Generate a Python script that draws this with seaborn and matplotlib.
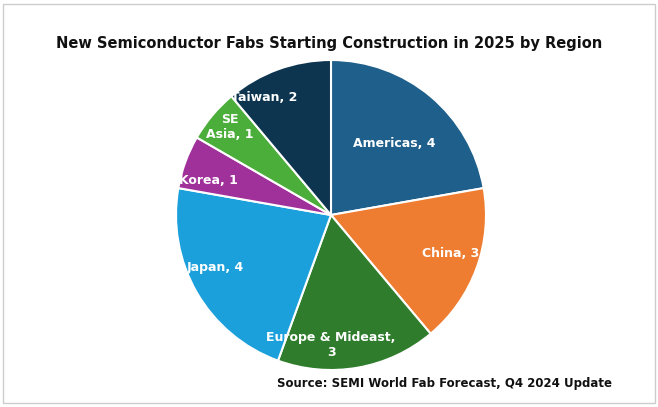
import matplotlib
matplotlib.use("Agg")
import matplotlib.pyplot as plt
import seaborn as sns

regions = ["Americas", "China", "Europe & Mideast", "Japan", "Korea", "SE Asia", "Taiwan"]
fabs = [4, 3, 3, 4, 1, 1, 2]
labels = ["Americas, 4", "China, 3", "Europe & Mideast,\n3", "Japan, 4", "Korea, 1", "SE\nAsia, 1", "Taiwan, 2"]
colors = ["#1f5f8b", "#ee7d31", "#2f7d2c", "#1ca0dc", "#a0309a", "#4cae3a", "#0e3550"]
# label positions in pie-radius units
label_pos = [(0.41, 0.46), (0.77, -0.25), (0.0, -0.84), (-0.75, -0.34),
             (-0.79, 0.22), (-0.65, 0.57), (-0.43, 0.76)]

sns.set_theme(style="white")
plt.rcParams['font.family'] = ['DejaVu Sans']

fig = plt.figure(figsize=(6.58, 4.07), dpi=100)
fig.patch.set_facecolor("white")

# pie centre ~ (331, 215) px, radius ~155 px
r = 155
ax = fig.add_axes([(331 - r) / 658, (407 - 215 - r) / 407, 2 * r / 658, 2 * r / 407])
wedges, texts = ax.pie(
    fabs, colors=colors, startangle=90, counterclock=False,
    labels=labels, labeldistance=0.6,
    wedgeprops=dict(edgecolor="white", linewidth=1.5),
    textprops=dict(color="white", fontsize=9, fontweight="bold", ha="center", va="center"),
)
for t, pos in zip(texts, label_pos):
    t.set_position(pos)
    t.set_ha("center")
    t.set_va("center")
ax.set_xlim(-1, 1)
ax.set_ylim(-1, 1)
ax.set_aspect("equal")

fig.text(0.5, 0.894, "New Semiconductor Fabs Starting Construction in 2025 by Region",
         ha="center", va="center", fontsize=10.5, fontweight="bold", color="#111111")
fig.text(612 / 658, 1 - 383 / 407, "Source: SEMI World Fab Forecast, Q4 2024 Update",
         ha="right", va="center", fontsize=8.5, fontweight="bold", color="#111111")

fig.patches.append(plt.Rectangle((0.005, 0.01), 0.99, 0.98, transform=fig.transFigure,
                                 fill=False, edgecolor="#cccccc", linewidth=1))

fig.savefig("out.png", dpi=100)
